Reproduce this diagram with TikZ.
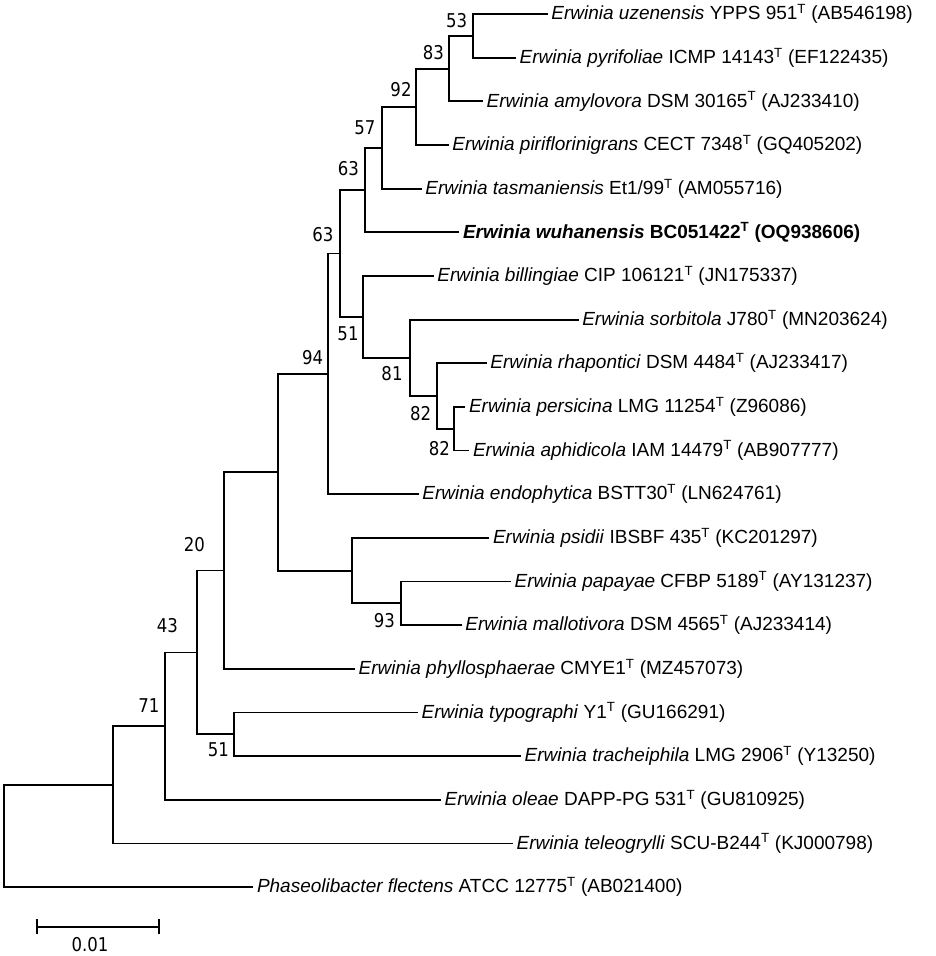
\documentclass[tikz,border=0pt]{standalone}
\usepackage{fontspec}
\setmainfont{Liberation Sans}
\newfontfamily\numfont[FakeStretch=0.87]{DejaVu Sans}
\newcommand{\tsup}{\textsuperscript{T}}
\begin{document}
\begin{tikzpicture}[x=1pt,y=-1pt,
  branch/.style={line width=1.8pt, line cap=rect},
  leaf/.style={anchor=west, inner sep=0pt, xshift=4.5pt, font=\fontsize{19}{22}\selectfont},
  boot/.style={inner sep=0pt, font=\fontsize{19}{22}\selectfont\numfont}]
\useasboundingbox (0,0) rectangle (935,956);
% leaf tips
\coordinate (l1) at (546.7,14);
\coordinate (l2) at (515,57.65);
\coordinate (l3) at (482,101.3);
\coordinate (l4) at (447.7,145);
\coordinate (l5) at (420.7,188.6);
\coordinate (l6) at (458.3,232.3);
\coordinate (l7) at (432.7,275.9);
\coordinate (l8) at (577.6,319.6);
\coordinate (l9) at (485.7,363.2);
\coordinate (l10) at (464.3,406.9);
\coordinate (l11) at (468.3,450.5);
\coordinate (l12) at (417.7,494.2);
\coordinate (l13) at (488.3,537.8);
\coordinate (l14) at (510,581.5);
\coordinate (l15) at (460.7,625.1);
\coordinate (l16) at (354,668.8);
\coordinate (l17) at (417,712.4);
\coordinate (l18) at (520,756.1);
\coordinate (l19) at (440,799.7);
\coordinate (l20) at (512,843.4);
\coordinate (l21) at (252.3,887);
% internal nodes
\coordinate (n53) at (472.7,35.8);
\coordinate (n83) at (449,68.6);
\coordinate (n92) at (416,106.8);
\coordinate (n57) at (382.3,147.7);
\coordinate (n63a) at (365,190);
\coordinate (n82b) at (454,428.7);
\coordinate (n82a) at (437,396);
\coordinate (n81) at (410,357.8);
\coordinate (n51) at (363.3,316.8);
\coordinate (n63b) at (340,253.4);
\coordinate (n94) at (328.3,373.8);
\coordinate (n93) at (400.7,603.3);
\coordinate (npsi) at (351.7,570.6);
\coordinate (nunl) at (277.7,472.2);
\coordinate (n20) at (224,570.5);
\coordinate (n51b) at (234.3,734.3);
\coordinate (n43) at (197,652.4);
\coordinate (n71) at (165,726);
\coordinate (nc) at (113.3,784.7);
\coordinate (nroot) at (4,835.9);
% branches
\draw[branch] (n53) |- (l1); \draw[branch] (n53) |- (l2);
\draw[branch] (n83) |- (n53); \draw[branch] (n83) |- (l3);
\draw[branch] (n92) |- (n83); \draw[branch] (n92) |- (l4);
\draw[branch] (n57) |- (n92); \draw[branch] (n57) |- (l5);
\draw[branch] (n63a) |- (n57); \draw[branch] (n63a) |- (l6);
\draw[branch] (n82b) |- (l10); \draw[branch] (n82b) |- (l11);
\draw[branch] (n82a) |- (l9); \draw[branch] (n82a) |- (n82b);
\draw[branch] (n81) |- (l8); \draw[branch] (n81) |- (n82a);
\draw[branch] (n51) |- (l7); \draw[branch] (n51) |- (n81);
\draw[branch] (n63b) |- (n63a); \draw[branch] (n63b) |- (n51);
\draw[branch] (n94) |- (n63b); \draw[branch] (n94) |- (l12);
\draw[branch] (n93) |- (l14); \draw[branch] (n93) |- (l15);
\draw[branch] (npsi) |- (l13); \draw[branch] (npsi) |- (n93);
\draw[branch] (nunl) |- (n94); \draw[branch] (nunl) |- (npsi);
\draw[branch] (n20) |- (nunl); \draw[branch] (n20) |- (l16);
\draw[branch] (n51b) |- (l17); \draw[branch] (n51b) |- (l18);
\draw[branch] (n43) |- (n20); \draw[branch] (n43) |- (n51b);
\draw[branch] (n71) |- (n43); \draw[branch] (n71) |- (l19);
\draw[branch] (nc) |- (n71); \draw[branch] (nc) |- (l20);
\draw[branch] (nroot) |- (nc); \draw[branch] (nroot) |- (l21);
% leaf labels
\node[leaf] (t1) at (l1) {\textit{Erwinia uzenensis} YPPS 951\tsup{} (AB546198)};
\node[leaf] (t2) at (l2) {\textit{Erwinia pyrifoliae} ICMP 14143\tsup{} (EF122435)};
\node[leaf] (t3) at (l3) {\textit{Erwinia amylovora} DSM 30165\tsup{} (AJ233410)};
\node[leaf] (t4) at (l4) {\textit{Erwinia piriflorinigrans} CECT 7348\tsup{} (GQ405202)};
\node[leaf] (t5) at (l5) {\textit{Erwinia tasmaniensis} Et1/99\tsup{} (AM055716)};
\node[leaf] (t6) at (l6) {\textbf{\textit{Erwinia wuhanensis} BC051422\tsup{} (OQ938606)}};
\node[leaf] (t7) at (l7) {\textit{Erwinia billingiae} CIP 106121\tsup{} (JN175337)};
\node[leaf] (t8) at (l8) {\textit{Erwinia sorbitola} J780\tsup{} (MN203624)};
\node[leaf] (t9) at (l9) {\textit{Erwinia rhapontici} DSM 4484\tsup{} (AJ233417)};
\node[leaf] (t10) at (l10) {\textit{Erwinia persicina} LMG 11254\tsup{} (Z96086)};
\node[leaf] (t11) at (l11) {\textit{Erwinia aphidicola} IAM 14479\tsup{} (AB907777)};
\node[leaf] (t12) at (l12) {\textit{Erwinia endophytica} BSTT30\tsup{} (LN624761)};
\node[leaf] (t13) at (l13) {\textit{Erwinia psidii} IBSBF 435\tsup{} (KC201297)};
\node[leaf] (t14) at (l14) {\textit{Erwinia papayae} CFBP 5189\tsup{} (AY131237)};
\node[leaf] (t15) at (l15) {\textit{Erwinia mallotivora} DSM 4565\tsup{} (AJ233414)};
\node[leaf] (t16) at (l16) {\textit{Erwinia phyllosphaerae} CMYE1\tsup{} (MZ457073)};
\node[leaf] (t17) at (l17) {\textit{Erwinia typographi} Y1\tsup{} (GU166291)};
\node[leaf] (t18) at (l18) {\textit{Erwinia tracheiphila} LMG 2906\tsup{} (Y13250)};
\node[leaf] (t19) at (l19) {\textit{Erwinia oleae} DAPP-PG 531\tsup{} (GU810925)};
\node[leaf] (t20) at (l20) {\textit{Erwinia teleogrylli} SCU-B244\tsup{} (KJ000798)};
\node[leaf] (t21) at (l21) {\textit{Phaseolibacter flectens} ATCC 12775\tsup{} (AB021400)};
% bootstrap values
\node[boot] (b53) at (456.7,20.7) {53};
\node[boot] (b83) at (433.3,52.3) {83};
\node[boot] (b92) at (401,90) {92};
\node[boot] (b57) at (365,127.7) {57};
\node[boot] (b63a) at (348.3,168.3) {63};
\node[boot] (b63b) at (323,235) {63};
\node[boot] (b94) at (312.7,357.7) {94};
\node[boot] (b51) at (348,334) {51};
\node[boot] (b81) at (392,374) {81};
\node[boot] (b82a) at (420.7,414) {82};
\node[boot] (b82b) at (439.3,448.3) {82};
\node[boot] (b93) at (384.3,621) {93};
\node[boot] (b20) at (194.3,544.3) {20};
\node[boot] (b43) at (167.3,626) {43};
\node[boot] (b71) at (149,705.7) {71};
\node[boot] (b51b) at (218.3,749.3) {51};
% scale bar
\coordinate (sb1) at (37.3,926.7);
\coordinate (sb2) at (158.7,926.7);
\draw[branch] (sb1) -- (sb2);
\draw[branch, line cap=butt] ([yshift=7.5pt]sb1) -- ([yshift=-7.5pt]sb1);
\draw[branch, line cap=butt] ([yshift=7.5pt]sb2) -- ([yshift=-7.5pt]sb2);
\node[boot] (sbl) at (90,945) {0.01};
\end{tikzpicture}
\end{document}
